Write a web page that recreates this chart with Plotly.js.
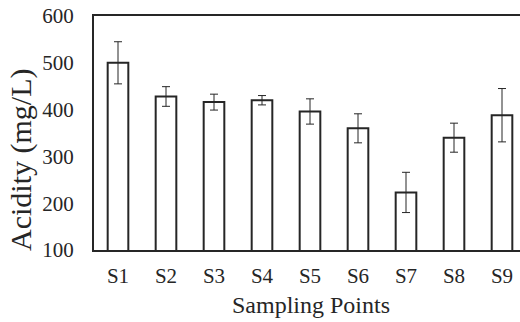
<!DOCTYPE html>
<html><head><meta charset="utf-8">
<script src="https://cdn.plot.ly/plotly-3.0.1.min.js"></script>
<style>html,body{margin:0;padding:0;background:#fff;}#chart{width:520px;height:322px;}</style>
</head><body><div id="chart"></div>
<script>
const categories = ["S1","S2","S3","S4","S5","S6","S7","S8","S9"];
const acidity = [500, 428, 416, 420, 396, 360, 223, 340, 388];
const errors = [45, 21, 17, 10, 27, 31, 43, 31, 57];
const yTicks = [100, 200, 300, 400, 500, 600];
const xTitle = "Sampling Points";
const yTitle = "Acidity (mg/L)";

const font = "Liberation Serif, Times New Roman, serif";
const ink = "#262626";

const trace = {
  type: "bar",
  x: categories,
  y: acidity,
  width: 0.43,
  marker: {color: "#ffffff", line: {color: ink, width: 2}},
  error_y: {type: "data", array: errors, visible: true, color: ink, thickness: 1, width: 4}
};

const layout = {
  width: 520, height: 322,
  margin: {l: 94, r: 0, t: 16, b: 72, pad: 0},
  paper_bgcolor: "#ffffff", plot_bgcolor: "#ffffff",
  showlegend: false,
  font: {family: font, color: ink, size: 21},
  xaxis: {
    type: "category",
    range: [-0.5, 8.375],
    showline: true, linecolor: ink, linewidth: 2, mirror: true,
    ticks: "", showgrid: false, zeroline: false,
    ticklabelstandoff: 6,
    tickfont: {family: font, size: 21, color: ink}
  },
  yaxis: {
    range: [100, 600],
    tickvals: yTicks,
    showline: true, linecolor: ink, linewidth: 2, mirror: false,
    ticks: "", showgrid: false, zeroline: false,
    ticklabelstandoff: 14,
    tickfont: {family: font, size: 21, color: ink}
  },
  annotations: [
    {text: xTitle, xref: "paper", yref: "paper", x: 0.5094, y: -0.235,
     xanchor: "center", yanchor: "middle", showarrow: false,
     font: {family: font, size: 24, color: ink}},
    {text: yTitle, xref: "paper", yref: "paper", x: -0.1714, y: 0.3846,
     xanchor: "center", yanchor: "middle", textangle: -90, showarrow: false,
     font: {family: font, size: 30, color: ink}}
  ]
};

Plotly.newPlot("chart", [trace], layout, {staticPlot: true, displayModeBar: false});
</script>
</body></html>
